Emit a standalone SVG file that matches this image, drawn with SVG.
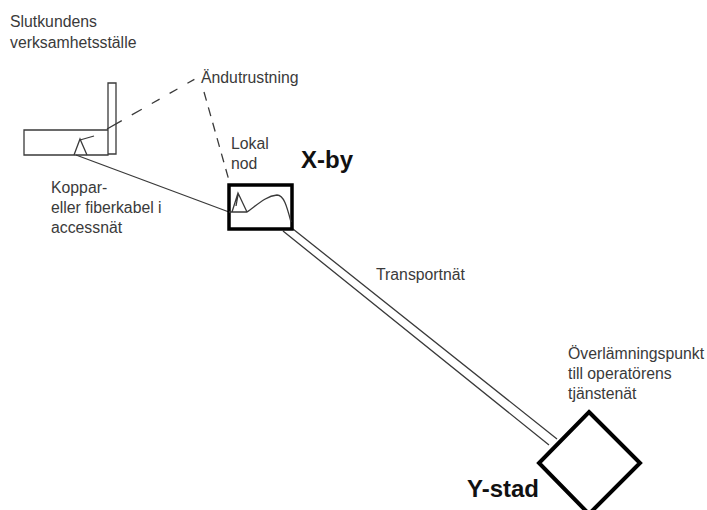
<svg xmlns="http://www.w3.org/2000/svg" width="707" height="510" viewBox="0 0 707 510">
<style>
text{font-family:"Liberation Sans",Arial,sans-serif;font-size:15.8px;fill:#3a3a3a}
.b{font-size:24px;font-weight:bold;fill:#111}
.l{fill:none;stroke:#3a3a3a;stroke-width:1.3}
.d{fill:none;stroke:#3a3a3a;stroke-width:1.3;stroke-dasharray:17 11.5 11.5 11.5 9 11.5 9 11.5 8}
.h{fill:#fff;stroke:#000;stroke-width:4}
</style>
<rect width="707" height="510" fill="#fff"/>
<g id="connectors">
<path class="d" d="M107 129L195 79"/>
<path class="l" stroke-dasharray="9 7" d="M204 92L230 184"/>
<path class="l" d="M76 155L229 212"/>
<path class="l" d="M283 231L549 445M293 229L557 439"/>
</g>
<g id="kund">
<text x="10" y="27">Slutkundens</text>
<text x="10" y="48">verksamhetsställe</text>
<path class="l" d="M108 83H116V154H108ZM24 130H108V155H24Z"/>
<path class="l" d="M74 155L80 139L87 155M77 147L80 139"/>
<path class="l" d="M80 140L94 136"/>
</g>
<g id="andutrustning"><text x="201" y="83">Ändutrustning</text></g>
<g id="lokal-nod">
<text x="231" y="149">Lokal</text>
<text x="231" y="169">nod</text>
<rect x="229" y="185" width="63" height="44" fill="none" stroke="#000" stroke-width="3.5"/>
<path class="l" d="M229 212H247C255 207 265 196 277 195C284 195 287 207 291 222M232 212L238 193L247 212M236 206L238 195"/>
</g>
<g id="x-by"><text class="b" x="301" y="168">X-by</text></g>
<g id="kabel"><text x="51" y="193">Koppar-</text><text x="51" y="213">eller fiberkabel i</text><text x="51" y="233">accessnät</text></g>
<g id="transportnat"><text x="376" y="280">Transportnät</text></g>
<g id="overlamning"><text x="568" y="359">Överlämningspunkt</text><text x="568" y="379">till operatörens</text><text x="568" y="399">tjänstenät</text></g>
<g id="y-stad">
<path class="h" d="M589 412L640 463L589 514L539 463Z"/>
<text class="b" x="467" y="497">Y-stad</text>
</g>
</svg>
